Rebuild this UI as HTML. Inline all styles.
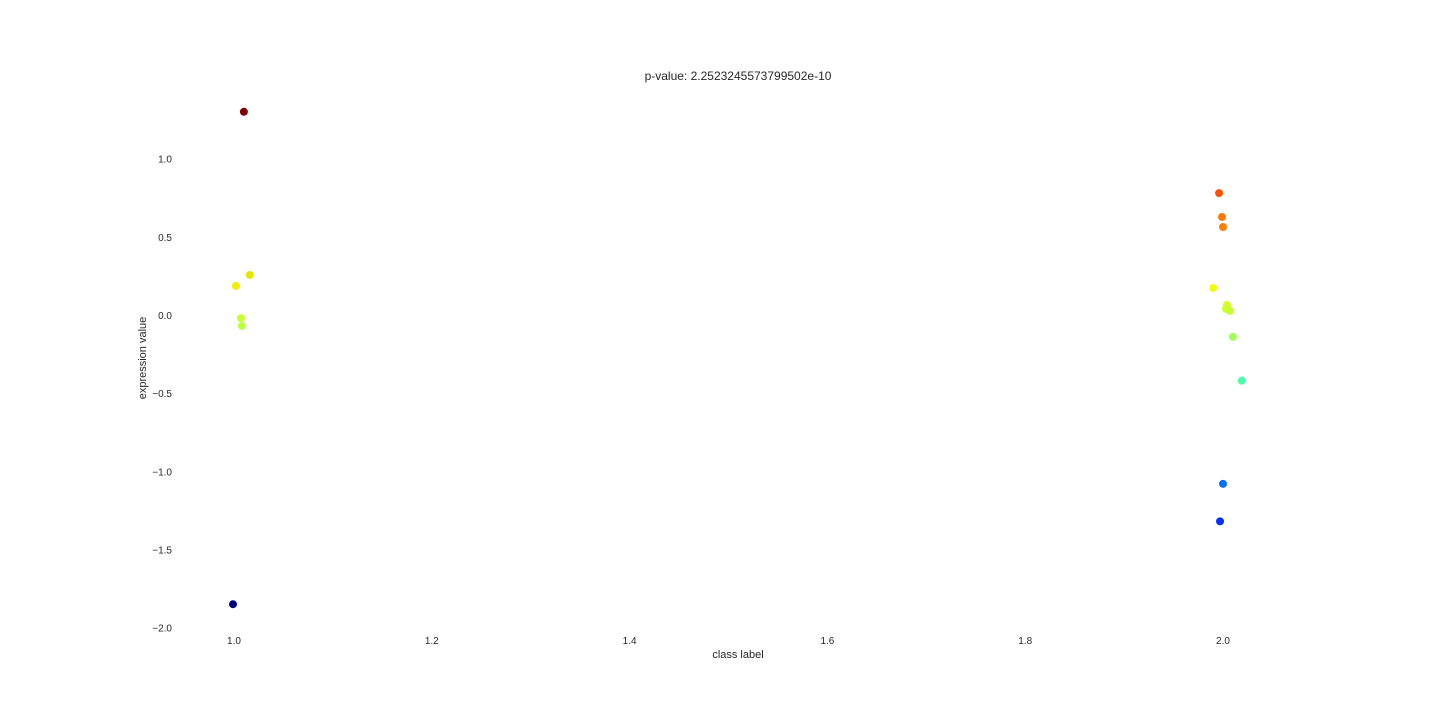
<!DOCTYPE html>
<html><head><meta charset="utf-8"><style>
body{margin:0;background:#fff;}
svg{display:block;font-family:"Liberation Sans",sans-serif;}
</style></head><body>
<svg id="chart" width="1440" height="720" viewBox="0 0 1440 720">
<text x="738" y="80" text-anchor="middle" font-size="12" fill="#262626">p-value: 2.2523245573799502e-10</text>
<g id="xt"></g>
<g id="yt"></g>
<text x="738" y="658" text-anchor="middle" font-size="11" fill="#262626">class label</text>
<text transform="translate(146,358) rotate(-90)" text-anchor="middle" font-size="11" fill="#262626">expression value</text>
<g id="pts"></g>
</svg>
<script>
const xTicks=[1.0,1.2,1.4,1.6,1.8,2.0];
const yTicks=[1.0,0.5,0.0,-0.5,-1.0,-1.5,-2.0];
const xVals=[1.010,1.016,1.002,1.007,1.008,0.999,1.996,1.999,2.000,1.990,2.004,2.003,2.007,2.010,2.019,2.000,1.997];
const yVals=[1.30,0.256,0.186,-0.02,-0.07,-1.85,0.78,0.627,0.563,0.173,0.064,0.04,0.026,-0.14,-0.42,-1.08,-1.32];
const colors=["#800000","#e6e600","#f0f000","#c8ff30","#b8ff40","#000080","#ff5000","#ff7a00","#ff8000","#f0ff10","#d8ff20","#d0ff28","#c8ff30","#a0ff58","#4cffaa","#0070ff","#0030ff"];
const sx=v=>234+(v-1)*989;
const sy=v=>315-v*156.33;
const NS="http://www.w3.org/2000/svg";
const xt=document.getElementById('xt'),yt=document.getElementById('yt'),pts=document.getElementById('pts');
xTicks.forEach(t=>{const e=document.createElementNS(NS,'text');


e.setAttribute('x',sx(t));e.setAttribute('y',644);e.setAttribute('text-anchor','middle');e.setAttribute('font-size','10');e.setAttribute('fill','#262626');e.textContent=t.toFixed(1);xt.appendChild(e);});
yTicks.forEach(t=>{const e=document.createElementNS(NS,'text');


e.setAttribute('x',172);e.setAttribute('y',sy(t)+4);e.setAttribute('text-anchor','end');e.setAttribute('font-size','10');e.setAttribute('fill','#262626');e.textContent=(t<0?'\u2212':'')+Math.abs(t).toFixed(1);yt.appendChild(e);});
xVals.forEach((x,i)=>{const c=document.createElementNS(NS,'circle');


c.setAttribute('cx',sx(x));c.setAttribute('cy',sy(yVals[i]));c.setAttribute('r',4);c.setAttribute('fill',colors[i]);pts.appendChild(c);});
</script>
</body></html>
